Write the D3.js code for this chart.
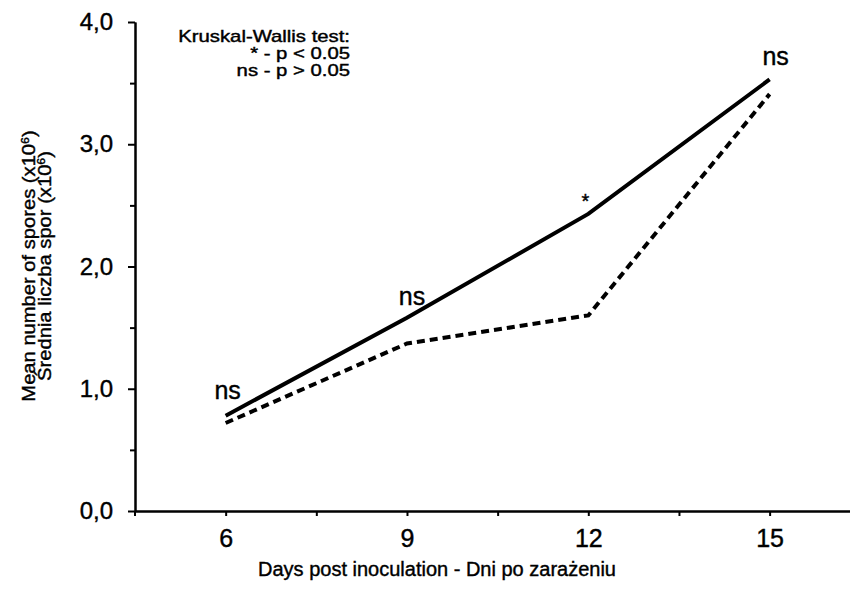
<!DOCTYPE html>
<html lang="en">
	<head>
		<meta charset="utf-8">
		<title>Mean number of spores</title>
		<script src="https://d3js.org/d3.v7.min.js"></script>
		<style>
			body {
				margin: 0;
				background: #ffffff;
			}
			text {
				font-family: "Liberation Sans", Arial, sans-serif;
				fill: #000000;
				stroke: #000000;
				stroke-width: 0.4;
			}
			.axis path, .axis line {
				stroke: #000000;
				stroke-width: 2;
			}
		</style>
	</head>
	<body>
		<div id="chart"></div>
		<script type="text/javascript">
			// data
			var days = [6, 9, 12, 15];
			var solidSeries = [0.78, 1.58, 2.43, 3.53];
			var dashedSeries = [0.72, 1.37, 1.60, 3.41];
			var signif = ["ns", "ns", "*", "ns"];
			var yTicks = [0, 1, 2, 3, 4];
			var yMinor = [0.5, 1.5, 2.5, 3.5];
			var xMinor = [7.5, 10.5, 13.5];
			var legendLines = ["Kruskal-Wallis test:", "* - p < 0.05", "ns - p > 0.05"];

			// settings for window
			var w = 850;
			var h = 590;
			var plotLeft = 135, plotTop = 22, plotBottom = 511;

			var svg = d3.select("#chart").append("svg").attr("width", w).attr("height", h);

			var xScale = d3.scaleLinear().domain([4.5, 16.5]).range([plotLeft, plotLeft + 12 * 60.44]);
			var yScale = d3.scaleLinear().domain([0, 4]).range([plotBottom, plotTop]);

			// minor ticks first (no labels)
			svg.append("g").attr("class", "axis").attr("transform", "translate(0," + plotBottom + ")")
				.call(d3.axisBottom(xScale).tickValues(xMinor).tickSize(5).tickSizeOuter(0).tickFormat(""));
			svg.append("g").attr("class", "axis").attr("transform", "translate(" + plotLeft + ",0)")
				.call(d3.axisLeft(yScale).tickValues(yMinor).tickSize(5).tickSizeOuter(0).tickFormat(""));

			// main axes
			var xAxis = d3.axisBottom(xScale).tickValues(days).tickSize(5).tickSizeOuter(0).tickPadding(13);
			var yAxis = d3.axisLeft(yScale).tickValues(yTicks).tickSize(7).tickSizeOuter(0).tickPadding(15)
				.tickFormat(function(d) { return d3.format(".1f")(d).replace(".", ","); });

			svg.append("g").attr("class", "x axis").attr("transform", "translate(0," + plotBottom + ")").call(xAxis)
				.selectAll("text").style("font-size", "25px");
			var gy = svg.append("g").attr("class", "y axis").attr("transform", "translate(" + plotLeft + ",0)").call(yAxis);
			gy.selectAll("text").style("font-size", "24px");
			// y axis runs a little past the x axis
			gy.append("line").attr("x1", 0).attr("x2", 0).attr("y1", plotBottom).attr("y2", plotBottom + 5);

			// lines
			var line = d3.line()
				.x(function(d, i) { return xScale(days[i]); })
				.y(function(d) { return yScale(d); });

			svg.append("path").datum(dashedSeries).attr("d", line)
				.attr("fill", "none").attr("stroke", "#000").attr("stroke-width", 4).attr("stroke-dasharray", "8,5");
			svg.append("path").datum(solidSeries).attr("d", line)
				.attr("fill", "none").attr("stroke", "#000").attr("stroke-width", 4);

			// significance marks above the solid line
			var nudge = [[2, -17], [5, -13], [-3, -6], [6, -14]];
			svg.selectAll(".sig").data(signif).enter().append("text").attr("class", "sig")
				.attr("x", function(d, i) { return xScale(days[i]) + nudge[i][0]; })
				.attr("y", function(d, i) { return yScale(solidSeries[i]) + nudge[i][1]; })
				.attr("text-anchor", "middle")
				.style("font-size", function(d) { return d == "*" ? "20px" : "25px"; })
				.text(function(d) { return d; });

			// legend text (scan is a bit wider than tall, so stretch sideways)
			var legend = svg.append("g").attr("transform", "translate(350,0) scale(1.27,1)");
			legend.selectAll(".legend").data(legendLines).enter().append("text").attr("class", "legend")
				.attr("x", 0)
				.attr("y", function(d, i) { return 42 + i * 17; })
				.attr("text-anchor", "end")
				.style("font-size", "16px")
				.text(function(d) { return d; });

			// x axis title
			svg.append("text").attr("x", 437).attr("y", 576).attr("text-anchor", "middle")
				.style("font-size", "20px").text("Days post inoculation - Dni po zarażeniu");

			// y axis title (two lines, rotated)
			var yTitle = [["Mean number of spores (x10", ")"], ["Średnia liczba spor (x10", ")"]];
			yTitle.forEach(function(t, i) {
				var txt = svg.append("text").attr("transform", "translate(" + (35 + i * 16) + ",266) rotate(-90) scale(1.12,1)")
					.attr("text-anchor", "middle").style("font-size", "18px");
				txt.append("tspan").text(t[0]);
				txt.append("tspan").attr("dy", -6).style("font-size", "11px").text("6");
				txt.append("tspan").attr("dy", 6).text(t[1]);
			});
		</script>
	</body>
</html>
